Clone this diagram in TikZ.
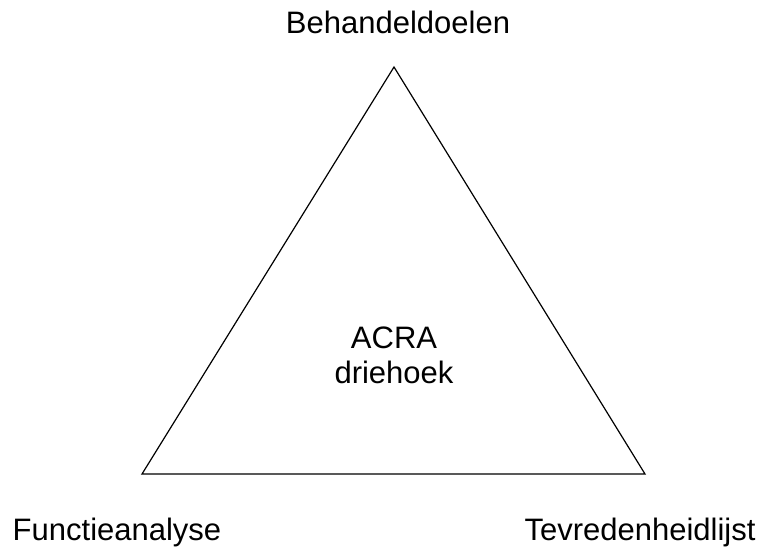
\documentclass[tikz,border=0pt]{standalone}
\usepackage{fontspec}
\setmainfont{Liberation Sans}
\begin{document}
\begin{tikzpicture}[x=1pt,y=-1pt,font=\fontsize{31}{35}\selectfont,
  corner/.style={anchor=base,inner sep=0pt}]
  \useasboundingbox (0,0) rectangle (770,546);
  \coordinate (top) at (394,67);
  \coordinate (left) at (142,474);
  \coordinate (right) at (645,474);
  \draw [line width=1.2pt,line join=miter] (top) -- (left) -- (right) -- cycle;
  \node [corner] (doelen) at (398,33) {Behandeldoelen};
  \node [corner] (analyse) at (117,540) {Functieanalyse};
  \node [corner] (lijst) at (640,540) {Tevredenheidlijst};
  \node [corner] (acra) at (394,348) {ACRA};
  \node [corner] (driehoek) at (394,383) {driehoek};
\end{tikzpicture}
\end{document}
